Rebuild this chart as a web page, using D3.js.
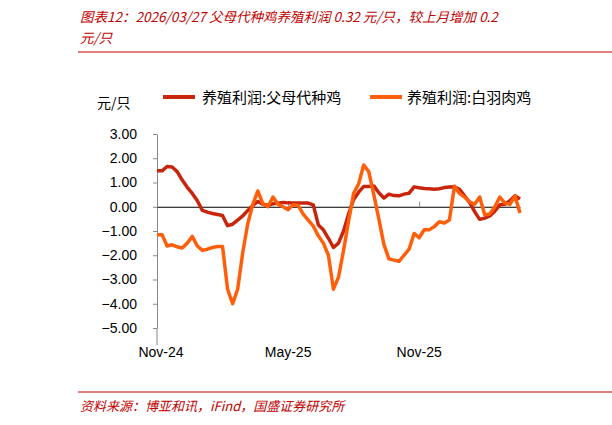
<!DOCTYPE html><html><head><meta charset="utf-8"><script src="https://cdn.jsdelivr.net/npm/d3@7"></script>
<style>body{margin:0;background:#fff}text{font-family:"Noto Sans CJK SC","Liberation Sans",sans-serif}</style></head><body>
<svg id="c" width="612" height="425"></svg>
<script>
const seriesNames=["养殖利润:父母代种鸡","养殖利润:白羽肉鸡"];
const parent=[1.48,1.48,1.66,1.64,1.45,1.10,0.80,0.55,0.25,-0.15,-0.22,-0.28,-0.32,-0.36,-0.78,-0.72,-0.55,-0.38,-0.15,0.05,0.22,0.10,0.06,0.12,0.15,0.18,0.16,0.15,0.15,0.15,0.15,0.08,-0.75,-0.95,-1.30,-1.68,-1.50,-1.00,-0.30,0.30,0.60,0.84,0.84,0.86,0.58,0.36,0.52,0.46,0.45,0.52,0.56,0.82,0.78,0.75,0.74,0.72,0.74,0.79,0.81,0.82,0.72,0.45,0.18,-0.20,-0.52,-0.47,-0.38,-0.18,0.08,0.10,0.25,0.45,0.32];
const broiler=[-1.15,-1.15,-1.62,-1.57,-1.65,-1.70,-1.50,-1.22,-1.62,-1.80,-1.75,-1.68,-1.64,-1.64,-3.40,-4.00,-3.40,-1.90,-0.70,0.10,0.65,0.12,0.00,0.40,0.10,0.00,-0.12,0.08,0.05,-0.30,-0.55,-0.80,-1.20,-1.50,-2.00,-3.40,-2.90,-1.80,-0.60,0.55,0.95,1.72,1.45,0.50,-0.50,-1.55,-2.15,-2.20,-2.25,-2.00,-1.75,-1.10,-1.28,-0.95,-0.95,-0.82,-0.62,-0.67,-0.55,0.85,0.55,0.40,0.20,0.10,0.40,-0.33,-0.30,0.00,0.40,0.15,0.10,0.45,-0.26];
const xTickIdx=[0,26,52], xTickLabels=["Nov-24","May-25","Nov-25"];
const yTicks=[3,2,1,0,-1,-2,-3,-4,-5];
const colors=["#c8260c","#ff5f0a"];
const svg=d3.select("#c");
const x=d3.scaleLinear().domain([0,72]).range([157,520]);
const y=d3.scaleLinear().domain([-5,3]).range([328,134]);
const red="#c00000";
svg.append("text").attr("x",80).attr("y",22).attr("fill",red).attr("font-size",13.5).attr("font-style","italic").text("图表12：2026/03/27 父母代种鸡养殖利润 0.32 元/只，较上月增加 0.2");
svg.append("text").attr("x",80).attr("y",43).attr("fill",red).attr("font-size",13.5).attr("font-style","italic").text("元/只");
svg.append("line").attr("x1",78).attr("x2",612).attr("y1",52).attr("y2",52).attr("stroke",red).attr("stroke-width",1);
svg.append("line").attr("x1",78).attr("x2",612).attr("y1",392).attr("y2",392).attr("stroke",red).attr("stroke-width",1);
svg.append("text").attr("x",80).attr("y",411).attr("fill",red).attr("font-size",13).attr("font-style","italic").text("资料来源：博亚和讯，iFind，国盛证券研究所");
svg.append("text").attr("x",97).attr("y",108).attr("font-size",14).attr("fill","#000").text("元/只");
// y axis
const ya=svg.append("g").attr("transform","translate(157,0)").call(d3.axisLeft(y).tickValues(yTicks).tickFormat(d3.format(".2f")).tickSize(4).tickSizeOuter(0));
ya.select(".domain").attr("stroke","#888");
ya.selectAll(".tick line").attr("stroke","#888");
ya.selectAll("text").attr("font-size",14).attr("fill","#000").attr("x",-20).style("font-family","Liberation Sans, Arial, sans-serif");
svg.append("line").attr("x1",157).attr("x2",157).attr("y1",328).attr("y2",345).attr("stroke","#888");
// zero axis
const xa=svg.append("g").attr("transform",`translate(0,${y(0)})`).call(d3.axisTop(x).tickValues(xTickIdx).tickFormat("").tickSize(5).tickSizeOuter(0));
xa.select(".domain").attr("stroke","#000");
xa.selectAll(".tick line").attr("stroke","#888");
xTickIdx.forEach((d,i)=>svg.append("text").attr("x",x(d)+(i==0?4:0)).attr("y",357).attr("text-anchor","middle").attr("font-size",14).style("font-family","Liberation Sans, Arial, sans-serif").text(xTickLabels[i]));
const line=d3.line().x((d,i)=>x(i)).y(d=>y(d));
[broiler,parent].forEach((s,k)=>{});
svg.append("path").datum(parent).attr("d",line).attr("fill","none").attr("stroke",colors[0]).attr("stroke-width",3.5).attr("stroke-linejoin","round");
svg.append("path").datum(broiler).attr("d",line).attr("fill","none").attr("stroke",colors[1]).attr("stroke-width",3.5).attr("stroke-linejoin","round");
// legend
[[163,202],[370,407]].forEach((p,i)=>{
 svg.append("line").attr("x1",p[0]).attr("x2",p[0]+32).attr("y1",97).attr("y2",97).attr("stroke",colors[i]).attr("stroke-width",4);
 svg.append("text").attr("x",p[1]).attr("y",103).attr("font-size",15).text(seriesNames[i]);
});
</script></body></html>
